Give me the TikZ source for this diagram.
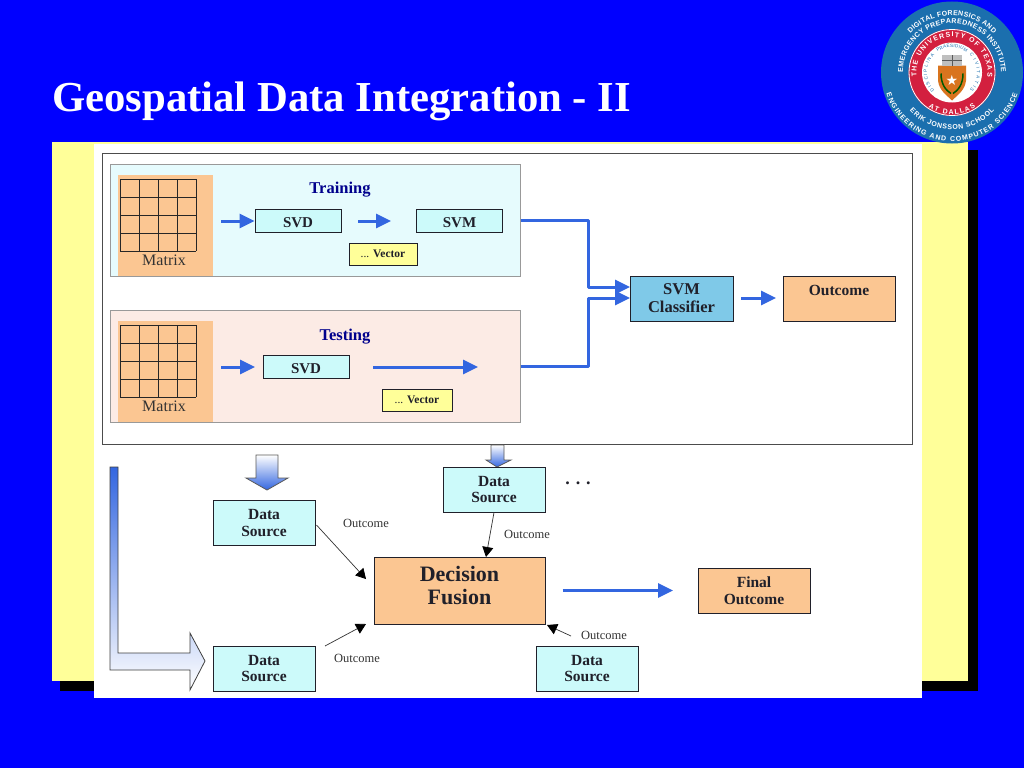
\documentclass[tikz,border=0pt]{standalone}
\usepackage{fontspec}
\setmainfont{Liberation Serif}
\newfontfamily\sealfont{Liberation Sans}
\newfontfamily\starfont{DejaVu Sans}
\usepackage{xcolor}
\usetikzlibrary{arrows.meta, positioning, calc, decorations.text}

\definecolor{slideblue}{HTML}{0000FF}
\definecolor{noteyellow}{HTML}{FFFF99}
\definecolor{flowblue}{HTML}{3366E0}
\definecolor{boxcyan}{HTML}{CCFAFA}
\definecolor{boxorange}{HTML}{FBC692}
\definecolor{boxsky}{HTML}{7FC9E8}
\definecolor{panelcyan}{HTML}{E6FBFD}
\definecolor{panelpink}{HTML}{FCEBE5}
\definecolor{inkdark}{HTML}{20202A}
\definecolor{sealblue}{HTML}{1B6FAE}
\definecolor{sealred}{HTML}{D3203F}
\definecolor{sealorange}{HTML}{D9741E}

\tikzset{
  block/.style={draw=inkdark, line width=1pt, inner sep=0pt, align=center, text=inkdark,
    font=\fontsize{15.5}{16.5}\selectfont\bfseries},
  source/.style={block, fill=boxcyan, minimum width=102pt, minimum height=45pt},
  smallbox/.style={block, fill=boxcyan, minimum width=86pt, minimum height=23pt, text height=13pt, text depth=0pt, font=\fontsize{15}{16}\selectfont\bfseries},
  vectorbox/.style={block, fill=noteyellow, minimum height=22pt, font=\fontsize{11.5}{12}\selectfont},
  result/.style={block, fill=boxorange},
  panel/.style={draw=black!40, line width=1pt, minimum width=410pt, minimum height=112pt},
  matrixbg/.style={fill=boxorange, minimum width=95pt, minimum height=101pt, inner sep=0pt},
  cellline/.style={draw=black!85, line width=1pt},
  flow/.style={draw=flowblue, line width=3pt, line join=round, -{Triangle[length=15pt,width=14pt]}},
  thinflow/.style={draw=black!80, line width=0.7pt, -{Triangle[length=10pt,width=11pt,black]}},
  outlabel/.style={text=black!80, font=\fontsize{12.5}{14}\selectfont},
  headlab/.style={text=blue!55!black, font=\fontsize{16.5}{18}\selectfont\bfseries},
  blockarrow/.style={draw=black!65, line width=0.8pt, top color=white, middle color=flowblue!60, bottom color=flowblue},
  sealtext/.style={decorate, decoration={text along path, text align={fit to path}, text={#1}}}
}
\newcommand{\sealbig}{\sealfont\fontsize{7}{7}\selectfont\bfseries\color{white}}
\newcommand{\sealsmall}{\sealfont\fontsize{4.6}{5}\selectfont\color{sealblue}}

\begin{document}
\begin{tikzpicture}[x=1pt, y=-1pt]
\useasboundingbox (0,0) rectangle (1024,768);
\fill[slideblue] (0,0) rectangle (1024,768);

\node[anchor=west, inner sep=0pt, text=white, font=\fontsize{42.7}{46}\selectfont\bfseries] (title) at (52,101) {Geospatial Data Integration - II};

% Backing sheets
\fill[black] (60,150) rectangle (978,691);
\fill[noteyellow] (52,142) rectangle (968,681);
\fill[white] (94,144) rectangle (922,698);
\node[draw=black!70, line width=1pt, minimum width=810pt, minimum height=291pt] (frame) at (507,298.5) {};

% Training and testing panels
\node[panel, fill=panelcyan] (train) at (315,220) {};
\node[panel, fill=panelpink] (test) at (315,366) {};
\foreach \oy/\nm in {0/A, 146/B} {
   \node[matrixbg] (mat\nm) at (165.5,225.5+\oy) {};
   \foreach \i in {0,...,4} {
      \draw[cellline] (120+19*\i,179+\oy) -- (120+19*\i,251+\oy);
      \draw[cellline] (120,179+18*\i+\oy) -- (196,179+18*\i+\oy);
   }
   \node[text=black!80, font=\fontsize{16}{18}\selectfont] (lab\nm) at (164,260+\oy) {Matrix};
   \coordinate (start\nm) at (221,221+\oy);
}

\node[headlab] (trainlab) at (340,189.5) {Training};
\node[headlab] (testlab) at (345,336.5) {Testing};

\node[smallbox] (svdA) at (298,220.5) {SVD};
\node[smallbox] (svmA) at (459.5,220.5) {SVM};
\node[smallbox] (svdB) at (306,367) {SVD};
\node[vectorbox, minimum width=68pt] (vecA) at (383,254) {... \textbf{Vector}};
\node[vectorbox, minimum width=70pt] (vecB) at (417,400) {... \textbf{Vector}};

\coordinate (midA) at (358,221);
\coordinate (endA) at (391,221);
\coordinate (midB) at (373,367);
\coordinate (endB) at (478,367);
\draw[flow] (startA) -- (svdA.west |- startA);
\draw[flow] (midA) -- (endA);
\draw[flow] (startB) -- (255,367);
\draw[flow] (midB) -- (endB);

% Classifier
\node[block, fill=boxsky, minimum width=103pt, minimum height=45pt, font=\fontsize{16.5}{18}\selectfont\bfseries] (classifier) at (681.5,298.5) {SVM\\Classifier};
\node[result, minimum width=112pt, minimum height=45pt, text depth=17pt] (outcome) at (839,298.5) {Outcome};
\coordinate (inA) at (630,287);
\coordinate (inB) at (630,298);
\coordinate (clsout) at (741,298);
\coordinate (outin) at (776,298);
\draw[flow] (train.east) -- ++(68,0) |- (inA);
\draw[flow] (test.east) -- ++(68,0) |- (inB);
\draw[flow] (clsout) -- (outin);

% Block arrows out of the frame
\draw[blockarrow] (256,455) -- (278,455) -- (278,478) -- (288,478) -- (267,490) -- (246,478) -- (256,478) -- cycle;
\draw[blockarrow] (491,445) -- (504,445) -- (504,460) -- (511,460) -- (497,467) -- (486,460) -- (491,460) -- cycle;
\draw[draw=black!75, line width=0.8pt, top color=flowblue, middle color=flowblue!25, bottom color=white] (110,467) -- (118,467) -- (118,653) -- (190,653) -- (190,633) -- (205,661) -- (190,690) -- (190,670) -- (110,670) -- cycle;

% Decision fusion
\node[source] (srcA) at (264,523) {Data\\Source};
\node[source] (srcB) at (494,489.5) {Data\\Source};
\node[source] (srcC) at (264,668.5) {Data\\Source};
\node[source] (srcD) at (587,668.5) {Data\\Source};
\node[result, minimum width=171pt, minimum height=67pt, font=\fontsize{22}{23}\selectfont\bfseries] (fusion) at (459.5,590.5) {Decision\\Fusion\\[-13pt]\mbox{}};
\node[result, minimum width=112pt, minimum height=45pt] (final) at (754,590.5) {Final\\Outcome};
\node[font=\fontsize{18}{18}\selectfont\bfseries, text=inkdark] (dots) at (578,483) {. . .};

\coordinate (tipA) at (366,579);
\coordinate (tipC) at (366,624);
\coordinate (tailC) at (325,646);
\coordinate (tipD) at (547,625);
\coordinate (tailD) at (571,636);
\coordinate (tipF) at (673,590.5);
\draw[thinflow] (srcA.east) ++(1,2) -- (tipA);
\draw[thinflow] (tailC) -- (tipC);
\draw[thinflow] (srcB.south) -- (486,557);
\draw[thinflow] (tailD) -- (tipD);
\draw[flow] (fusion.east) ++(17,0) -- (tipF);

\node[outlabel] (outA) at (366,523) {Outcome};
\node[outlabel] (outB) at (527,534) {Outcome};
\node[outlabel] (outC) at (357,658) {Outcome};
\node[outlabel] (outD) at (604,635) {Outcome};

% Seal
\begin{scope}[shift={(952,72.5)}, x=1pt, y=1pt]
   \fill[sealblue] (0,0) circle (71);
   \fill[sealred] (0,0) circle (43.5);
   \draw[white, line width=0.8pt] (0,0) circle (43);
   \fill[white] (0,0) circle (30);
   \fill[sealorange] (-14,7) -- (-14,-8) .. controls (-13,-18) and (-5,-23) .. (0,-28) .. controls (5,-23) and (13,-18) .. (14,-8) -- (14,7) -- cycle;
   \fill[black!25] (-10,7) rectangle (10,17);
   \draw[black!65, line width=0.8pt] (0,7) -- (0,17) (-10,12) -- (10,12);
   \draw[green!35!black, line width=1.5pt] (-11,-1) .. controls (-11,-12) and (-6,-18) .. (-1,-21);
   \draw[green!35!black, line width=1.5pt] (11,-1) .. controls (11,-12) and (6,-18) .. (1,-21);
   \node[white, font=\starfont\fontsize{14}{14}\selectfont] (star) at (0,-8) {★};
   \path[sealtext={|\sealbig|DIGITAL FORENSICS AND}] (137:57) arc[start angle=137, end angle=43, radius=57];
   \path[sealtext={|\sealbig|EMERGENCY PREPAREDNESS INSTITUTE}] (180:49) arc[start angle=180, end angle=0, radius=49];
   \path[sealtext={|\sealbig|THE UNIVERSITY OF TEXAS}] (187:35.5) arc[start angle=187, end angle=-7, radius=35.5];
   \path[sealtext={|\sealsmall|PRAESIDIUM}] (125:25) arc[start angle=125, end angle=55, radius=25];
   \path[sealtext={|\sealsmall|DISCIPLINA}] (225:25) arc[start angle=225, end angle=135, radius=25];
   \path[sealtext={|\sealsmall|CIVITATIS}] (45:25) arc[start angle=45, end angle=-45, radius=25];
   \path[sealtext={|\sealbig|AT DALLAS}] (236:42) arc[start angle=236, end angle=304, radius=42];
   \path[sealtext={|\sealbig|ERIK JONSSON SCHOOL}] (222:57) arc[start angle=222, end angle=318, radius=57];
   \path[sealtext={|\sealbig|ENGINEERING AND COMPUTER SCIENCE}] (198:69) arc[start angle=198, end angle=342, radius=69];
\end{scope}
\end{tikzpicture}
\end{document}
